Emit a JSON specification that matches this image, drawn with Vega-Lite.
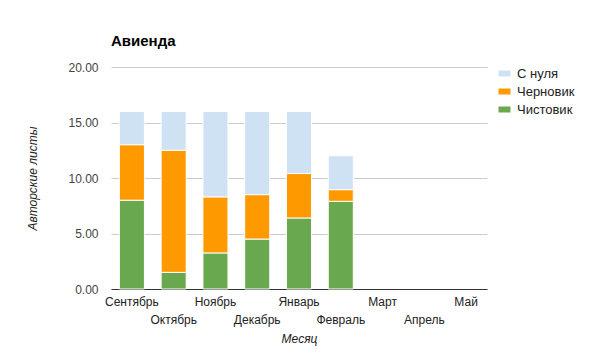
{
  "$schema": "https://vega.github.io/schema/vega-lite/v6.json",
  "width": 376,
  "height": 222,
  "autosize": {"type": "none"},
  "padding": {"left": 111, "top": 67, "right": 105, "bottom": 66},
  "background": "white",
  "title": {"text": "Авиенда", "anchor": "start", "font": "Liberation Sans", "fontSize": 15, "fontWeight": "bold", "color": "#000", "offset": 21, "dy": 9, "frame": "group"},
  "config": {"view": {"stroke": null}, "font": "Liberation Sans"},
  "data": {"values": [
    {"month": "Сентябрь", "type": "Чистовик", "value": 8.0},
    {"month": "Сентябрь", "type": "Черновик", "value": 5.0},
    {"month": "Сентябрь", "type": "С нуля", "value": 3.0},
    {"month": "Октябрь", "type": "Чистовик", "value": 1.5},
    {"month": "Октябрь", "type": "Черновик", "value": 11.0},
    {"month": "Октябрь", "type": "С нуля", "value": 3.5},
    {"month": "Ноябрь", "type": "Чистовик", "value": 3.25},
    {"month": "Ноябрь", "type": "Черновик", "value": 5.05},
    {"month": "Ноябрь", "type": "С нуля", "value": 7.7},
    {"month": "Декабрь", "type": "Чистовик", "value": 4.5},
    {"month": "Декабрь", "type": "Черновик", "value": 4.0},
    {"month": "Декабрь", "type": "С нуля", "value": 7.5},
    {"month": "Январь", "type": "Чистовик", "value": 6.4},
    {"month": "Январь", "type": "Черновик", "value": 4.0},
    {"month": "Январь", "type": "С нуля", "value": 5.6},
    {"month": "Февраль", "type": "Чистовик", "value": 7.9},
    {"month": "Февраль", "type": "Черновик", "value": 1.05},
    {"month": "Февраль", "type": "С нуля", "value": 3.05}
  ]},
  "mark": {"type": "bar", "stroke": "white", "strokeWidth": 1},
  "encoding": {
    "x": {
      "field": "month", "type": "nominal",
      "scale": {"domain": ["Сентябрь", "Октябрь", "Ноябрь", "Декабрь", "Январь", "Февраль", "Март", "Апрель", "Май"], "paddingInner": 0.4, "paddingOuter": 0.2},
      "title": "Месяц",
      "axis": {
        "labelAngle": 0, "ticks": false, "domainColor": "#333", "domainWidth": 1,
        "labelFontSize": 12, "labelColor": "#222", "labelPadding": 7, "labelLineHeight": 18,
        "labelExpr": "round(datum.index*8) % 2 == 1 ? ['', datum.label] : datum.label",
        "labelOverlap": false,
        "titleFontStyle": "italic", "titleFontWeight": "normal", "titleFontSize": 12, "titleColor": "#222", "titlePadding": 8
      }
    },
    "y": {
      "field": "value", "type": "quantitative", "aggregate": "sum", "stack": "zero",
      "scale": {"domain": [0, 20]},
      "title": "Авторские листы",
      "axis": {
        "values": [0, 5, 10, 15, 20], "format": ".2f", "ticks": false, "domain": false,
        "gridColor": "#ccc", "labelFontSize": 12, "labelColor": "#444", "labelPadding": 13,
        "titleFontStyle": "italic", "titleFontWeight": "normal", "titleFontSize": 12, "titleColor": "#222", "titlePadding": 28
      }
    },
    "color": {
      "field": "type", "type": "nominal",
      "scale": {"domain": ["С нуля", "Черновик", "Чистовик"], "range": ["#cfe2f3", "#ff9900", "#6aa84f"]},
      "legend": {
        "title": null, "orient": "none", "legendX": 387, "legendY": 0,
        "symbolType": "M-1,-0.5H1V0.5H-1Z", "symbolSize": 144, "symbolStrokeWidth": 0, "symbolOpacity": 1,
        "labelFontSize": 13, "labelColor": "#222", "rowPadding": 4, "labelOffset": 6
      }
    },
    "order": {"field": "type", "sort": "descending"}
  }
}
